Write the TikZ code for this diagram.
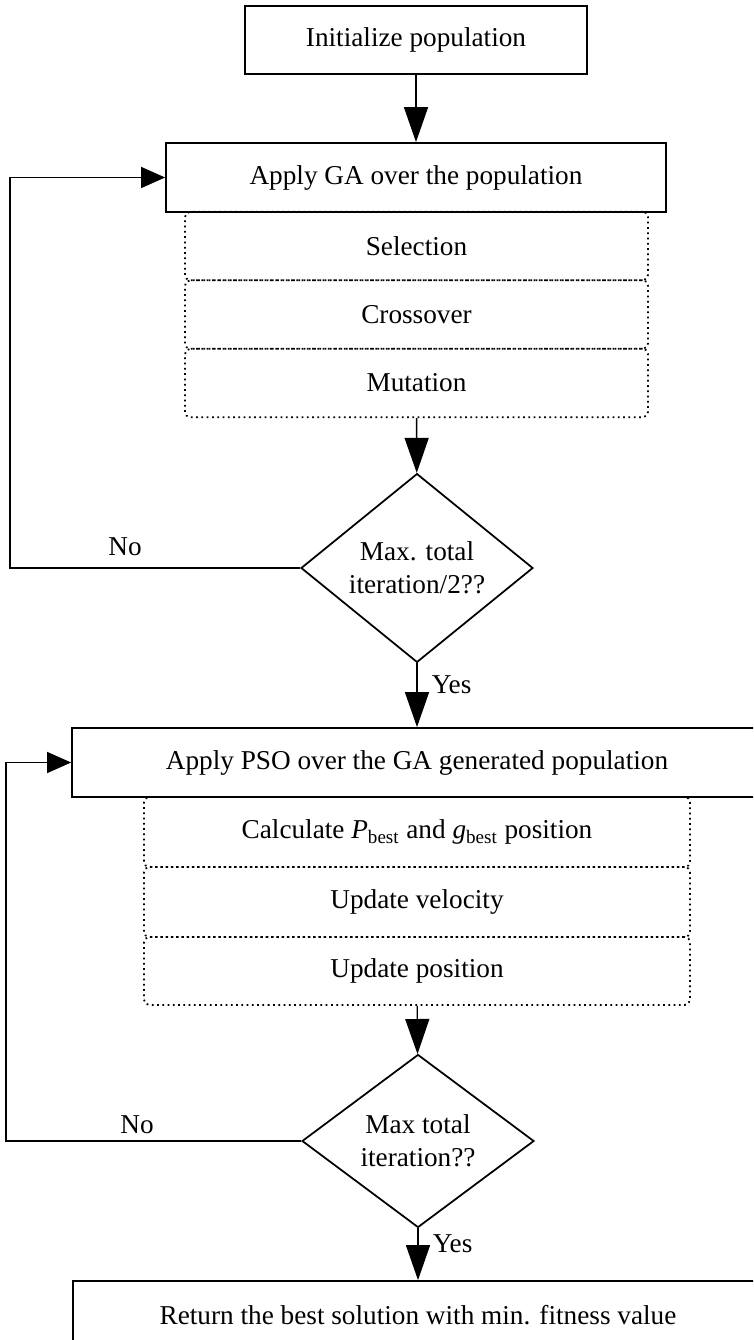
\documentclass[tikz,border=0pt]{standalone}
\usepackage{amsmath}
\usepackage{fontspec}
\setmainfont{Liberation Serif}
\usetikzlibrary{arrows.meta,shapes.geometric,positioning}

\begin{document}
\begin{tikzpicture}[
    font=\fontsize{15.5}{19}\selectfont,
    box/.style={draw, line width=1pt, minimum height=1.38cm, align=center},
    sub/.style={draw, dotted, line width=1pt, rounded corners=3pt, minimum width=9.26cm, minimum height=1.37cm, align=center},
    subpso/.style={sub, minimum width=10.92cm, minimum height=1.4cm},
    dec/.style={draw, diamond, line width=1pt, minimum width=4.64cm, minimum height=3.46cm, inner sep=0pt, align=center},
    arr/.style={-{Triangle[length=0.7cm, width=0.48cm]}, line width=0.8pt},
    back/.style={-{Triangle[length=0.48cm, width=0.42cm]}, line width=0.8pt},
    lbl/.style={inner sep=1pt}
]
\useasboundingbox (0,0) rectangle (15.06,-26.8);
\clip (0,0) rectangle (15.06,-26.8);

\node[box, minimum width=6.84cm, minimum height=1.36cm] (init) at (8.32,-0.8) {Initialize population};
\node[box, minimum width=10cm] (ga) at (8.32,-3.55) {Apply GA over the population};
\node[sub] (sel) at (8.33,-4.92) {Selection};
\node[sub] (cro) at (8.33,-6.29) {Crossover};
\node[sub] (mut) at (8.33,-7.66) {Mutation};
\node[dec] (half) at (8.34,-11.36) {Max. total\\iteration/2??};

\node[box, minimum width=13.8cm] (pso) at (8.34,-15.25) {Apply PSO over the GA generated population};
\node[subpso] (calc) at (8.34,-16.64) {Calculate \textit{P}$_{\text{best}}$ and \textit{g}$_{\text{best}}$ position};
\node[subpso] (vel) at (8.34,-18.04) {Update velocity};
\node[subpso, minimum height=1.36cm] (pos) at (8.34,-19.42) {Update position};
\node[dec] (full) at (8.36,-22.82) {Max total\\iteration??};
\node[box, minimum width=13.8cm] (ret) at (8.36,-26.31) {Return the best solution with min. fitness value};

\coordinate (l1) at (0.2,-11.36);
\coordinate (l2) at (0.12,-22.82);

\draw[arr] (init) -- (ga);
\draw[arr] (mut) -- (half);
\draw[arr] (half) -- node[lbl, right=7pt, pos=0.33] {Yes} (pso);
\draw[back] (half.west) -- (l1) |- (ga.west);
\node[lbl] (no1) at (2.5,-10.94) {No};

\draw[arr] (pos) -- (full);
\draw[arr] (full) -- node[lbl, right=7pt, pos=0.3] {Yes} (ret);
\draw[back] (full.west) -- (l2) |- (pso.west);
\node[lbl] (no2) at (2.74,-22.5) {No};
\end{tikzpicture}
\end{document}
